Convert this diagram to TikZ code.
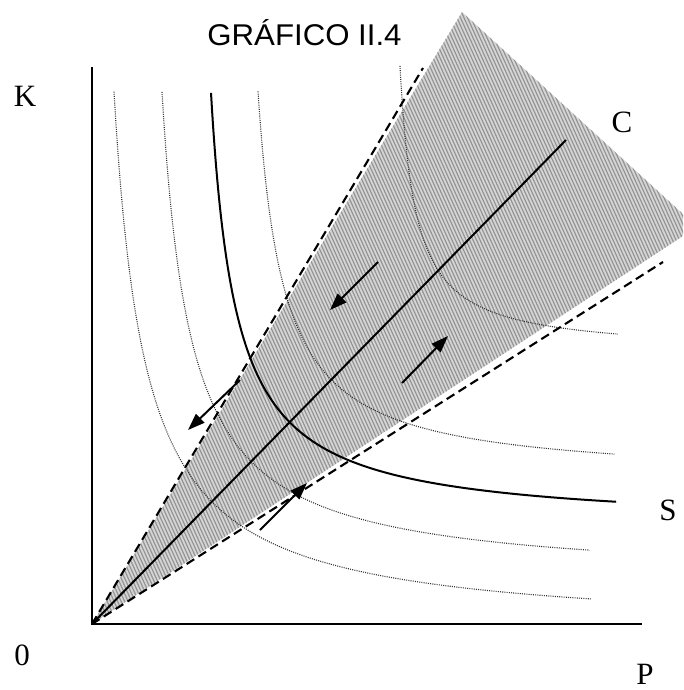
\documentclass[tikz,border=0pt]{standalone}
\usepackage{fontspec}
\setmainfont{Liberation Serif}
\newfontfamily\titlefont{Liberation Sans}
\usetikzlibrary{arrows.meta}
\begin{document}
\begin{tikzpicture}[x=1pt,y=-1pt,
  axisline/.style={line width=2.3pt},
  rayline/.style={line width=2pt},
  dashray/.style={line width=2.1pt, dash pattern=on 9pt off 5pt},
  dotcurve/.style={line width=1.1pt, black!80, dash pattern=on 1pt off 1.2pt},
  solidcurve/.style={line width=2pt},
  flow/.style={line width=2pt, -{Triangle[length=17pt,width=12pt]}},
  lbl/.style={font=\fontsize{31}{36}\selectfont, inner sep=0pt},
  hatchline/.style={black!42, line width=1.2pt},
]
\useasboundingbox (0,0) rectangle (683,690);
\clip (0,0) rectangle (683,690);
\coordinate (O) at (92,624);
% shaded cone
\begin{scope}
  \clip (O) -- (462,12) -- (683,214) -- (683,236) -- cycle;
  \fill[black!16] (0,0) rectangle (683,690);
  \foreach \i in {-230,-226.5,...,690} \draw[hatchline] (\i,0) -- ++(315,700);
\end{scope}
% dotted curves
\draw[dotcurve] plot[variable=\t, domain=-1.428:1.368, samples=80, smooth]
  ({92 - 9.07 + 129.6*exp(\t)}, {624 - (-8 + 129.6*exp(-\t))});
\draw[dotcurve] plot[variable=\t, domain=-1.416:1.348, samples=80, smooth]
  ({92 + 41.2 + 118.7*exp(\t)}, {624 - (43 + 118.7*exp(-\t))});
\draw[dotcurve] plot[variable=\t, domain=-1.362:1.345, samples=80, smooth]
  ({92 + 140.5 + 99.55*exp(\t)}, {624 - (144 + 99.55*exp(-\t))});
\draw[dotcurve] plot[variable=\t, domain=-1.463:1.256, samples=80, smooth]
  ({92 + 292.6 + 66.5*exp(\t)}, {624 - (271 + 66.5*exp(-\t))});
% solid curve S
\draw[solidcurve] plot[variable=\t, domain=-1.427:1.419, samples=80, smooth]
  ({92 + 94 + 104.2*exp(\t)}, {624 - (97 + 104.2*exp(-\t))});
% rays
\coordinate (U) at (423,68);
\coordinate (L) at (663,262);
\coordinate (Cend) at (566,140);
\draw[dashray] (O) -- (U);
\draw[dashray] (O) -- (L);
\draw[rayline] (O) -- (Cend);
% axes
\coordinate (Ytop) at (92,67);
\coordinate (Xend) at (642,624);
\draw[axisline] (Ytop) -- (O) -- (Xend);
% arrows
\coordinate (a1s) at (378,262); \coordinate (a1e) at (330,310);
\coordinate (a2s) at (402,383); \coordinate (a2e) at (448,336);
\coordinate (a3s) at (240,380); \coordinate (a3e) at (188,430);
\coordinate (a4s) at (260,530); \coordinate (a4e) at (307,483);
\draw[flow] (a1s) -- (a1e);
\draw[flow] (a2s) -- (a2e);
\draw[flow] (a3s) -- (a3e);
\draw[flow] (a4s) -- (a4e);
% labels
\node[anchor=base, inner sep=0pt, xscale=1.04, font=\titlefont\fontsize{30}{36}\selectfont] (title) at (304.5,46) {GRÁFICO II.4};
\node[lbl] (K) at (25,96) {K};
\node[lbl] (C) at (622,122) {C};
\node[lbl] (S) at (668,510) {S};
\node[lbl] (P) at (645,674) {P};
\node[lbl] (zero) at (22,655) {0};
\end{tikzpicture}
\end{document}
